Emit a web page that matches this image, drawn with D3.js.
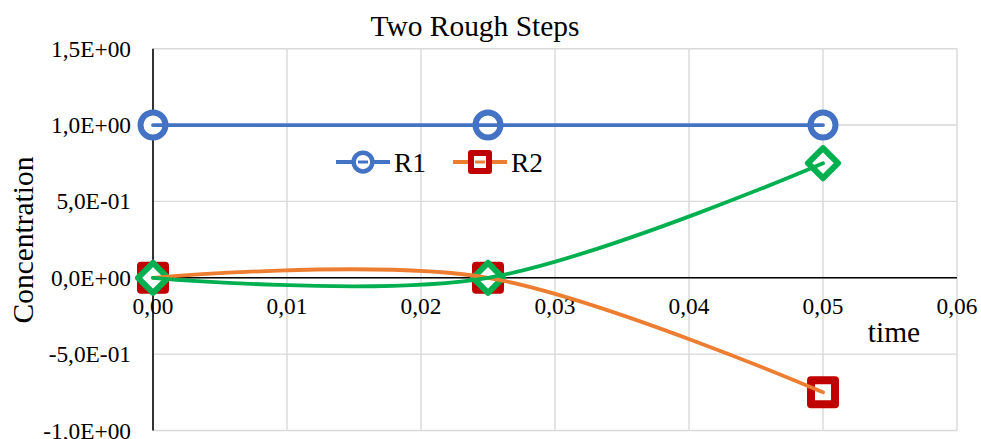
<!DOCTYPE html>
<html>
<head>
<meta charset="utf-8">
<script src="https://cdn.jsdelivr.net/npm/d3@7/dist/d3.min.js"></script>
<style>
  html, body { margin: 0; padding: 0; background: #fff; }
  svg { display: block; }
</style>
</head>
<body>
<svg id="chart" width="981" height="439"></svg>
<script>
// ---- data ----
const times = [0, 0.025, 0.05];
const r1 = [1, 1, 1];
const r2 = [0, 0, -0.75];
const r3 = [0, 0, 0.75];
const xTicks = [0, 0.01, 0.02, 0.03, 0.04, 0.05, 0.06];
const xTickLabels = ["0,00", "0,01", "0,02", "0,03", "0,04", "0,05", "0,06"];
const yTicks = [-1, -0.5, 0, 0.5, 1, 1.5];
const yTickLabels = ["-1,0E+00", "-5,0E-01", "0,0E+00", "5,0E-01", "1,0E+00", "1,5E+00"];
const titleText = "Two Rough Steps";
const xTitle = "time";
const yTitle = "Concentration";
const legendNames = ["R1", "R2"];

// ---- layout ----
const FONT = "'Liberation Serif', Tinos, 'Times New Roman', Times, 'DejaVu Serif', serif";
const svg = d3.select("#chart");
const x = d3.scaleLinear().domain([0, 0.06]).range([153, 957]);
const y = d3.scaleLinear().domain([-1, 1.5]).range([430.5, 48.7]);

// font-size calibration: the title is ~209px wide in the reference
const probe = svg.append("text").attr("font-family", FONT).attr("font-size", 29).text(titleText);
const probeW = probe.node().getComputedTextLength();
probe.remove();
const k = probeW > 0 ? Math.min(1.15, Math.max(0.8, 209 / probeW)) : 1;
const fs = v => v * k;

const gridColor = "#D9D9D9";
const blue = "#4472C4", orange = "#ED7D31", darkRed = "#C00000", green = "#00B050";

// gridlines
svg.append("g").selectAll("line").data(xTicks.filter(d => d > 0)).join("line")
  .attr("x1", d => x(d)).attr("x2", d => x(d))
  .attr("y1", y(1.5)).attr("y2", y(-1))
  .attr("stroke", gridColor).attr("stroke-width", 1.4);
svg.append("g").selectAll("line").data(yTicks).join("line")
  .attr("x1", x(0)).attr("x2", x(0.06))
  .attr("y1", d => y(d)).attr("y2", d => y(d))
  .attr("stroke", gridColor).attr("stroke-width", 1.4);

// axes lines
svg.append("line").attr("x1", x(0)).attr("x2", x(0)).attr("y1", y(1.5)).attr("y2", y(-1))
  .attr("stroke", "#000").attr("stroke-width", 1.6);
svg.append("line").attr("x1", x(0)).attr("x2", x(0.06)).attr("y1", y(0)).attr("y2", y(0))
  .attr("stroke", "#000").attr("stroke-width", 1.6);

// tick labels
svg.append("g").selectAll("text").data(yTicks).join("text")
  .attr("font-family", FONT)
  .attr("x", 131).attr("y", (d) => y(d) + 8)
  .attr("text-anchor", "end").attr("font-size", fs(23))
  .text((d, i) => yTickLabels[i]);
svg.append("g").selectAll("text").data(xTicks).join("text")
  .attr("font-family", FONT)
  .attr("x", d => x(d)).attr("y", y(0) + 36)
  .attr("text-anchor", "middle").attr("font-size", fs(23))
  .text((d, i) => xTickLabels[i]);

// titles
svg.append("text").attr("font-family", FONT).attr("x", 475).attr("y", 36).attr("text-anchor", "middle")
  .attr("font-size", fs(29)).text(titleText);
svg.append("text").attr("font-family", FONT).attr("x", 894).attr("y", 342).attr("text-anchor", "middle")
  .attr("font-size", fs(29)).text(xTitle);
svg.append("text").attr("font-family", FONT).attr("transform", "translate(33,240) rotate(-90)")
  .attr("text-anchor", "middle").attr("font-size", fs(29)).text(yTitle);

// series
const line = d3.line().x(d => x(d[0])).y(d => y(d[1])).curve(d3.curveCardinal.tension(0));
const series = [
  { vals: r1, color: blue, marker: "circle", mcolor: blue },
  { vals: r2, color: orange, marker: "square", mcolor: darkRed },
  { vals: r3, color: green, marker: "diamond", mcolor: green }
];

function drawMarker(g, type, color, cx, cy, scale) {
  if (type === "circle") {
    g.append("circle").attr("cx", cx).attr("cy", cy).attr("r", 12.5 * scale)
      .attr("fill", "#fff").attr("stroke", color).attr("stroke-width", 6 * scale);
  } else if (type === "square") {
    const s = 24 * scale;
    g.append("rect").attr("x", cx - s / 2).attr("y", cy - s / 2).attr("width", s).attr("height", s)
      .attr("fill", "#fff").attr("stroke", color).attr("stroke-width", 8 * scale)
      .attr("stroke-linejoin", "round");
  } else {
    const h = 15 * scale;
    g.append("path").attr("d", `M${cx},${cy - h}L${cx + h},${cy}L${cx},${cy + h}L${cx - h},${cy}Z`)
      .attr("fill", "#fff").attr("stroke", color).attr("stroke-width", 6 * scale)
      .attr("stroke-linejoin", "round");
  }
}

const gMarkers = svg.append("g");
series.forEach(s => {
  s.vals.forEach((v, i) => drawMarker(gMarkers, s.marker, s.mcolor, x(times[i]), y(v), 1));
});
const gLines = svg.append("g");
series.forEach(s => {
  gLines.append("path").datum(times.map((t, i) => [t, s.vals[i]]))
    .attr("d", line).attr("fill", "none").attr("stroke", s.color)
    .attr("stroke-width", 3.8).attr("stroke-linecap", "round");
});

// legend
const legend = svg.append("g");
const legendItems = [
  { name: legendNames[0], color: blue, marker: "circle", mcolor: blue, x0: 336 },
  { name: legendNames[1], color: orange, marker: "square", mcolor: darkRed, x0: 453 }
];
legendItems.forEach(it => {
  legend.append("line").attr("x1", it.x0).attr("x2", it.x0 + 54).attr("y1", 162).attr("y2", 162)
    .attr("stroke", it.color).attr("stroke-width", 3.8);
  drawMarker(legend, it.marker, it.mcolor, it.x0 + 27, 162, 0.75);
  legend.append("line").attr("x1", it.x0 + 22).attr("x2", it.x0 + 32).attr("y1", 162).attr("y2", 162)
    .attr("stroke", it.color).attr("stroke-width", 3);
  legend.append("text").attr("font-family", FONT).attr("x", it.x0 + 58).attr("y", 172)
    .attr("font-size", fs(27)).text(it.name);
});
</script>
</body>
</html>
